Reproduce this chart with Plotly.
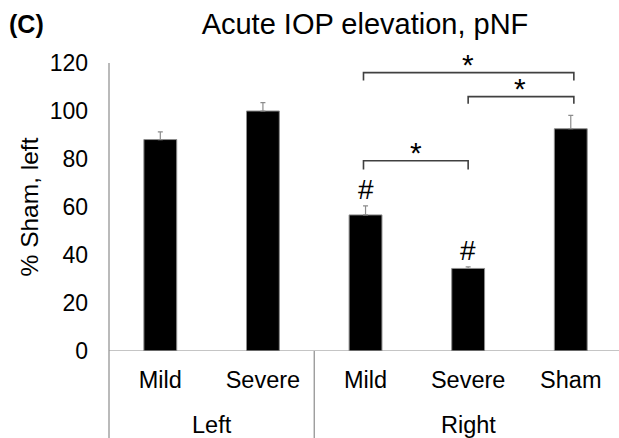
import plotly.graph_objects as go

groups = ["Left", "Left", "Right", "Right", "Right"]
conditions = ["Mild", "Severe", "Mild", "Severe", "Sham"]
values = [88.1, 100.0, 56.7, 34.4, 92.6]
errors = [3.2, 3.5, 3.8, 0.7, 5.6]

FONT = "Liberation Sans, Arial, sans-serif"
GRAY = "#8c8c8c"
DARK = "#404040"

xpos = list(range(len(values)))
T, B = 63, 87
PLOT_H = 438 - T - B
ZERO = 438 - B

fig = go.Figure()
fig.add_trace(go.Bar(
    x=xpos, y=values,
    marker=dict(color="black", line=dict(color=GRAY, width=1)),
    error_y=dict(type="data", array=errors, arrayminus=[0] * len(errors), symmetric=False,
                 visible=True, color=GRAY, thickness=1.2, width=2.5),
    width=0.32,
    showlegend=False,
))

fig.update_layout(
    width=619, height=438,
    margin=dict(l=109, r=0, t=T, b=B),
    paper_bgcolor="white", plot_bgcolor="white",
    font=dict(family=FONT, size=23.5, color="black"),
    title=dict(text="Acute IOP elevation, pNF", x=365/619, xanchor="center",
               y=1 - 24/438, yanchor="middle", font=dict(size=29)),
    xaxis=dict(range=[-0.5, 4.47], tickvals=xpos, ticktext=conditions, ticks="",
               showgrid=False, zeroline=False, showline=False,
               tickfont=dict(size=23.5), ticklabelstandoff=12),
    yaxis=dict(range=[0, 120], tick0=0, dtick=20, ticks="", showgrid=False,
               zeroline=False, showline=False, ticklabelstandoff=20,
               tickfont=dict(size=23),
               title=dict(text="% Sham, left", font=dict(size=24.5), standoff=4)),
)

# axis lines (Excel-style, extending through category label area)
fig.add_shape(type="line", xref="paper", yref="paper", x0=0, x1=0, y0=-0.31, y1=1,
              line=dict(color=GRAY, width=1.2))
fig.add_shape(type="line", xref="paper", yref="y", x0=0, x1=1, y0=0, y1=0,
              line=dict(color=GRAY, width=1.2))
fig.add_shape(type="line", xref="x", yref="paper", x0=1.5, x1=1.5, y0=-0.31, y1=0,
              line=dict(color=GRAY, width=1.2))

# group labels
grp_names = []
for g in groups:
    if g not in grp_names:
        grp_names.append(g)
for g in grp_names:
    idx = [i for i, gg in enumerate(groups) if gg == g]
    fig.add_annotation(x=sum(idx) / len(idx), y=(ZERO - 424.5)/PLOT_H, xref="x", yref="paper",
                       text=g, showarrow=False, font=dict(size=23.5),
                       xanchor="center", yanchor="middle")

# panel label
fig.add_annotation(x=(7-109)/510, y=(ZERO-24)/PLOT_H, xref="paper", yref="paper",
                   text="<b>(C)</b>", showarrow=False, xanchor="left", yanchor="middle",
                   font=dict(size=25))

# significance brackets
brackets = [(1.98, 4.03, 116.0, 112.7), (3.0, 4.03, 106.0, 103.0), (1.98, 3.0, 79.3, 75.6)]
for x0, x1, ytop, ybot in brackets:
    fig.add_shape(type="path", xref="x", yref="y",
                  path=f"M {x0},{ybot} L {x0},{ytop} L {x1},{ytop} L {x1},{ybot}",
                  line=dict(color=DARK, width=1.6))

stars = [(3.0, 116.0), (3.51, 106.0), (2.49, 79.3)]
for sx, sy in stars:
    fig.add_annotation(x=sx, y=sy, xref="x", yref="y", text="*", showarrow=False,
                       xanchor="center", yanchor="bottom", yshift=-10, font=dict(size=30))

hashes = [(2.0, 67.3), (3.0, 42.0)]
for hx, hy in hashes:
    fig.add_annotation(x=hx, y=hy, xref="x", yref="y", text="#", showarrow=False,
                       xanchor="center", yanchor="middle", font=dict(size=28))

fig.write_html("out.html")
